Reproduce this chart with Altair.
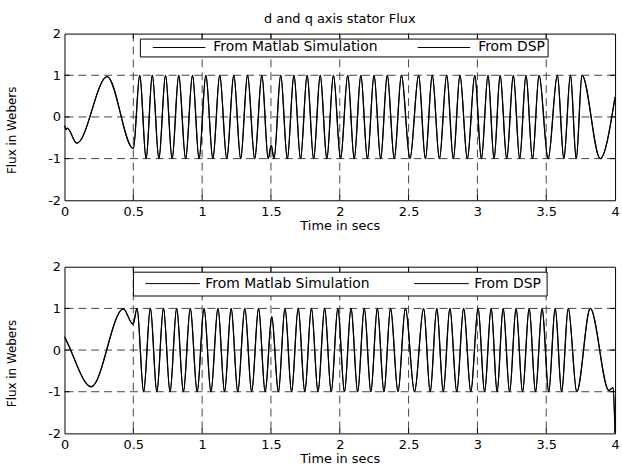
import altair as alt
import pandas as pd

# Stator flux extrema: time (s) and flux (Wb)
d_time = [0.000, 0.010, 0.020, 0.090, 0.310, 0.500,
          0.547, 0.593, 0.638, 0.686, 0.734, 0.782, 0.830, 0.880, 0.930, 0.978,
          1.027, 1.078, 1.128, 1.179, 1.230, 1.280, 1.330, 1.382, 1.434, 1.480,
          1.502, 1.522, 1.571, 1.619, 1.667, 1.715, 1.763, 1.810, 1.858, 1.906,
          1.954, 2.006, 2.058, 2.105, 2.153, 2.201, 2.249, 2.297, 2.345, 2.396,
          2.448, 2.510, 2.573, 2.622, 2.672, 2.724, 2.777, 2.825, 2.873, 2.927,
          2.981, 3.029, 3.077, 3.121, 3.165, 3.213, 3.261, 3.307, 3.353, 3.400,
          3.448, 3.514, 3.581, 3.628, 3.676, 3.718, 3.760, 3.892, 4.000]
d_flux = [-0.20, -0.30, -0.27, -0.63, 0.97, -0.76,
          1, -1, 1, -1, 1, -1, 1, -1, 1, -1,
          1, -1, 1, -1, 1, -1, 1, -1, 1, -1,
          -0.68, -1, 1, -1, 1, -1, 1, -1, 1, -1,
          1, -1, 1, -1, 1, -1, 1, -1, 1, -1,
          1, -1, 1, -1, 1, -1, 1, -1, 1, -1,
          1, -1, 1, -1, 1, -1, 1, -1, 1, -1,
          1, -1, 1, -1, 1, -1, 1, -1, 0.48]

q_time = [0.000, 0.015, 0.195, 0.427, 0.498, 0.527,
          0.575, 0.624, 0.671, 0.719, 0.767, 0.815, 0.864, 0.914, 0.964, 1.014,
          1.064, 1.115, 1.163, 1.211, 1.259, 1.310, 1.360, 1.410, 1.458, 1.506,
          1.554, 1.602, 1.650, 1.698, 1.746, 1.794, 1.842, 1.890, 1.938, 1.986,
          2.034, 2.082, 2.130, 2.178, 2.226, 2.273, 2.321, 2.369, 2.423, 2.477,
          2.543, 2.609, 2.657, 2.705, 2.752, 2.800, 2.850, 2.900, 2.952, 3.005,
          3.052, 3.100, 3.143, 3.187, 3.234, 3.281, 3.328, 3.376, 3.422, 3.470,
          3.518, 3.565, 3.612, 3.660, 3.722, 3.820, 3.955, 3.985, 4.000]
q_flux = [0.32, 0.22, -0.88, 0.99, 0.62, 1.0,
          -1, 1, -1, 1, -1, 1, -1, 1, -1, 1,
          -1, 1, -1, 1, -1, 1, -1, 1, -1, 0.8,
          -1, 1, -1, 1, -1, 1, -1, 1, -1, 1,
          -1, 1, -1, 1, -1, 1, -1, 1, -1, 1,
          -1, 1, -1, 1, -1, 1, -1, 1, -1, 1,
          -1, 1, -1, 1, -1, 1, -1, 1, -1, 1,
          -1, 1, -1, 1, -1, 1, -0.97, -0.9, -2.0]

assert len(d_time) == len(d_flux) and len(q_time) == len(q_flux)

series_names = ["From Matlab Simulation", "From DSP"]
x_ticks = [0, 0.5, 1, 1.5, 2, 2.5, 3, 3.5, 4]
y_ticks = [-2, -1, 0, 1, 2]
x_inner = [0.5, 1, 1.5, 2, 2.5, 3, 3.5]
y_inner = [-1, 0, 1]

W, H = 555, 168
FONT = "DejaVu Sans"
FS = 13


def panel(times, flux, legend_x, legend_y, legend_pad, sym_path, label_offset,
          col_pad, title=None):
    n = len(times)
    df = pd.DataFrame({
        "t": list(times) * 2,
        "v": list(flux) * 2,
        "series": [series_names[0]] * n + [series_names[1]] * n,
    })
    xs = alt.Scale(domain=[0, 4], nice=False, zero=False)
    ys = alt.Scale(domain=[-2, 2], nice=False, zero=False)
    x_axis = alt.Axis(values=x_ticks, format="~g", title="Time in secs",
                      grid=False, ticks=False, tickSize=0, domain=False,
                      labelPadding=5, titlePadding=1, labelFont=FONT,
                      labelFontSize=FS, labelColor="black", titleFont=FONT,
                      titleFontSize=FS, titleFontWeight="normal",
                      titleColor="black", labelFlush=False)
    y_axis = alt.Axis(values=y_ticks, labelExpr="'' + datum.value",
                      title="Flux in Webers", grid=False, ticks=False,
                      tickSize=0, domain=False, labelPadding=4,
                      titlePadding=28, labelFont=FONT, labelFontSize=FS,
                      labelColor="black", titleFont=FONT, titleFontSize=12,
                      titleFontWeight="normal", titleColor="black",
                      titleX=-53, titleY=97, titleAlign="center",
                      titleBaseline="middle", titleAngle=270,
                      labelFlush=False)
    X = alt.X("t:Q", scale=xs, axis=x_axis)
    Y = alt.Y("v:Q", scale=ys, axis=y_axis)

    legend = alt.Legend(
        orient="none", legendX=legend_x, legendY=legend_y,
        direction="horizontal", title=None, strokeColor="black",
        fillColor="white", padding=legend_pad, cornerRadius=0,
        symbolType=sym_path, symbolSize=100, symbolStrokeWidth=1,
        labelFont=FONT, labelFontSize=14, labelColor="black",
        labelOffset=label_offset, columnPadding=col_pad, labelLimit=400,
    )
    color = alt.Color("series:N",
                      scale=alt.Scale(domain=series_names,
                                      range=["black", "black"]),
                      legend=legend)

    grid_x = alt.Chart(pd.DataFrame({"t": x_inner})).mark_rule(
        color="#444444", strokeWidth=1, strokeDash=[8, 5]).encode(x=X)
    grid_y = alt.Chart(pd.DataFrame({"v": y_inner})).mark_rule(
        color="#444444", strokeWidth=1, strokeDash=[8, 5]).encode(y=Y)

    tick_top = alt.Chart(pd.DataFrame({"t": x_inner})).mark_rule(
        color="black").encode(x=X, y=alt.value(0), y2=alt.value(5))
    tick_bot = alt.Chart(pd.DataFrame({"t": x_inner})).mark_rule(
        color="black").encode(x=X, y=alt.value(H - 5), y2=alt.value(H))
    tick_left = alt.Chart(pd.DataFrame({"v": y_inner})).mark_rule(
        color="black").encode(y=Y, x=alt.value(0), x2=alt.value(5))
    tick_right = alt.Chart(pd.DataFrame({"v": y_inner})).mark_rule(
        color="black").encode(y=Y, x=alt.value(W - 5), x2=alt.value(W))

    # both traces follow the same extrema; the simulated one is drawn last
    base = alt.Chart(df)
    dsp = base.transform_filter(
        alt.datum.series == series_names[1]
    ).mark_line(interpolate="monotone", strokeWidth=1.3, clip=True).encode(
        x=X, y=Y, color=color)
    matlab = base.transform_filter(
        alt.datum.series == series_names[0]
    ).mark_line(interpolate="monotone", strokeWidth=1, clip=True).encode(
        x=X, y=Y, color=color)

    layer = alt.layer(grid_x, grid_y, tick_top, tick_bot, tick_left,
                      tick_right, dsp, matlab)
    props = dict(width=W, height=H)
    if title:
        props["title"] = alt.TitleParams(title, font=FONT, fontSize=FS,
                                         fontWeight="normal", color="black",
                                         anchor="middle", offset=2)
    return layer.properties(**props)


top = panel(d_time, d_flux, legend_x=76, legend_y=5, legend_pad=2,
            sym_path="M0.8,0H11.4", label_offset=58, col_pad=29,
            title="d and q axis stator Flux")
bottom = panel(q_time, q_flux, legend_x=69, legend_y=5, legend_pad=5,
               sym_path="M0.1,0H11.1", label_offset=54, col_pad=37)

chart = alt.vconcat(top, bottom, spacing=27).resolve_scale(
    color="independent").resolve_legend(color="independent").properties(
    padding={"left": 5, "top": 10, "right": 2, "bottom": 0},
    background="white",
).configure_view(stroke="black", strokeWidth=1)

chart.save("out.html", embed_options={"renderer": "svg", "actions": False})
